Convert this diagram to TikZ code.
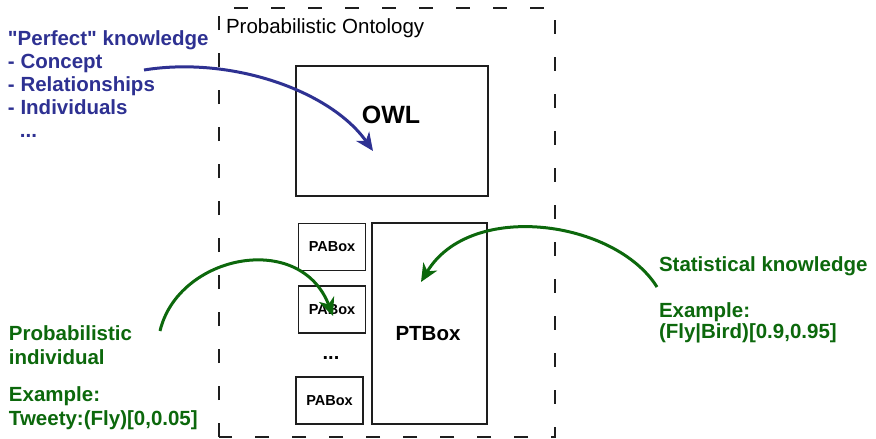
\documentclass[tikz,border=0pt]{standalone}
\usepackage{fontspec}
\setmainfont{Liberation Sans}[Ligatures=TeXOff]
\usetikzlibrary{arrows.meta}
\definecolor{knowblue}{RGB}{46,49,146}
\definecolor{knowgreen}{RGB}{12,104,12}
\definecolor{boxline}{RGB}{30,30,30}
\begin{document}
\begin{tikzpicture}[x=1pt,y=-1pt,
  every node/.style={inner sep=0pt, outer sep=0pt},
  frame/.style={draw=boxline, line width=1.5pt, dash pattern=on 14pt off 23pt},
  box/.style={draw=boxline, line width=1.5pt, fill=white},
  pabox/.style={box, minimum width=67pt, minimum height=47pt,
    font=\bfseries\fontsize{14.5}{17}\selectfont},
  bluetext/.style={text=knowblue, align=left, anchor=base west,
    font=\bfseries\fontsize{20.5}{23}\selectfont},
  greentext/.style={text=knowgreen, align=left, anchor=base west,
    font=\bfseries\fontsize{20.5}{23.5}\selectfont},
  bluearrow/.style={draw=knowblue, line width=3pt,
    -{Stealth[length=18pt,width=16pt,inset=5.5pt]}},
  greenarrow/.style={draw=knowgreen, line width=3pt,
    -{Stealth[length=18pt,width=16pt,inset=5.5pt]}}
]
\useasboundingbox (0,0) rectangle (876,439);

% ontology frame and its title
\draw[frame] (219,437) -- (219,8) -- (555,8) -- (555,437) -- cycle;
\node[anchor=base west, font=\fontsize{20.5}{24}\selectfont] (ontotitle) at (226,33) {Probabilistic Ontology};

% OWL part
\node[box, minimum width=192pt, minimum height=130pt] (owl) at (392,131) {};
\node[font=\bfseries\fontsize{25}{28}\selectfont, anchor=base] (owltext) at (391,123) {OWL};

% PABoxes
\node[pabox] (pa1) at (332,247) {PABox};
\node[pabox] (pa2) at (332,309.5) {PABox};
\node[font=\bfseries\fontsize{20}{24}\selectfont, anchor=base] (padots) at (331,359) {...};
\node[pabox] (pa3) at (329.5,400.5) {PABox};

% PTBox
\node[box, minimum width=115pt, minimum height=201pt] (ptbox) at (429.5,323.5) {};
\node[font=\bfseries\fontsize{20.5}{24}\selectfont, anchor=base] (pttext) at (428,340) {PTBox};

% knowledge descriptions (anchored at the baseline of the last line)
\node[bluetext] (perfect) at (8,137) {"Perfect" knowledge\\- Concept\\- Relationships\\- Individuals\\\hspace*{12pt}...};
\node[greentext] (indiv) at (9,425) {Probabilistic\\individual\\[14pt]Example:\\Tweety:(Fly)[0,0.05]};
\node[greentext, font=\bfseries\fontsize{20.5}{21}\selectfont] (stat) at (659,338) {Statistical knowledge\\[25pt]Example:\\(Fly|Bird)[0.9,0.95]};

% arrow ends
\coordinate (bluestart) at (144,70);
\coordinate (owltarget) at (373,151);
\coordinate (indivstart) at (160,331);
\coordinate (patarget) at (333,316);
\coordinate (statstart) at (657,287);
\coordinate (pttarget) at (421,282);

% arrows
\draw[bluearrow] (bluestart) .. controls (230,56) and (330,90) .. (owltarget);
\draw[greenarrow] (indivstart) .. controls (178,255) and (300,230) .. (patarget);
\draw[greenarrow] (statstart) .. controls (615,220) and (470,200) .. (pttarget);
\end{tikzpicture}
\end{document}
